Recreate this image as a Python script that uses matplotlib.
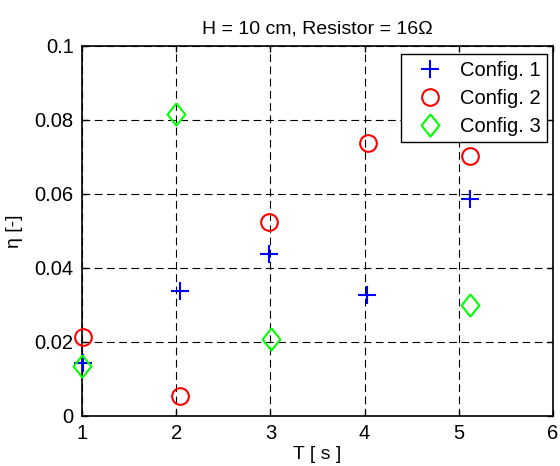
import matplotlib
matplotlib.use("Agg")
import matplotlib.pyplot as plt

plt.rcParams['font.family'] = ['Liberation Sans', 'DejaVu Sans']

c1_x = [1.01, 2.04, 2.98, 4.03, 5.12]
c1_y = [0.0142, 0.0338, 0.0437, 0.0326, 0.0586]
c2_x = [1.01, 2.04, 2.98, 4.04, 5.12]
c2_y = [0.0214, 0.0055, 0.0524, 0.0739, 0.0703]
c3_x = [1.00, 2.00, 3.01, 5.12]
c3_y = [0.0135, 0.0815, 0.0207, 0.0299]
labels = ["Config. 1", "Config. 2", "Config. 3"]
xticks = [1, 2, 3, 4, 5, 6]
yticks = [0, 0.02, 0.04, 0.06, 0.08, 0.1]
yticklabels = ["0", "0.02", "0.04", "0.06", "0.08", "0.1"]

diamond = [(0, 1), (0.8, 0), (0, -1), (-0.8, 0), (0, 1)]

fig = plt.figure(figsize=(5.6, 4.66), dpi=100)
ax = fig.add_axes([0.1464, 0.1073, 0.8411, 0.794])

ax.plot(c1_x, c1_y, linestyle='none', marker='+', ms=12.5, mew=1.5, color='#0000ff',
        label=labels[0], clip_on=False, zorder=3)
ax.plot(c2_x, c2_y, linestyle='none', marker='o', ms=12, mew=1.5, mfc='none', color='#ff0000',
        label=labels[1], clip_on=False, zorder=3)
ax.plot(c3_x, c3_y, linestyle='none', marker=diamond, ms=16, mew=1.5, mfc='none', color='#00ff00',
        label=labels[2], clip_on=False, zorder=3)

ax.set_xlim(1, 6)
ax.set_ylim(0, 0.1)
ax.set_xticks(xticks)
ax.set_yticks(yticks)
ax.set_yticklabels(yticklabels)
ax.tick_params(direction='in', top=True, right=True, labelsize=14.5, length=4, width=1, pad=6)
ax.grid(True, color='black', linestyle=(0, (7, 4)), linewidth=0.8)
for s in ax.spines.values():
    s.set_linewidth(1.2)

ax.set_title("H = 10 cm, Resistor = 16\u03a9", fontsize=14, pad=9)
ax.set_xlabel("T [ s ]", fontsize=14, labelpad=2)
ax.set_ylabel("\u03b7 [-]", fontsize=14, labelpad=8)

leg = ax.legend(loc='upper right', bbox_to_anchor=(0.988, 0.978), fontsize=14.5, frameon=True,
                fancybox=False, edgecolor='black', framealpha=1, borderaxespad=0,
                handletextpad=0.4, borderpad=0.32, labelspacing=0.45, handlelength=2.2)
leg.get_frame().set_linewidth(1.0)
leg.set_zorder(5)

fig.savefig("out.png", dpi=100)
